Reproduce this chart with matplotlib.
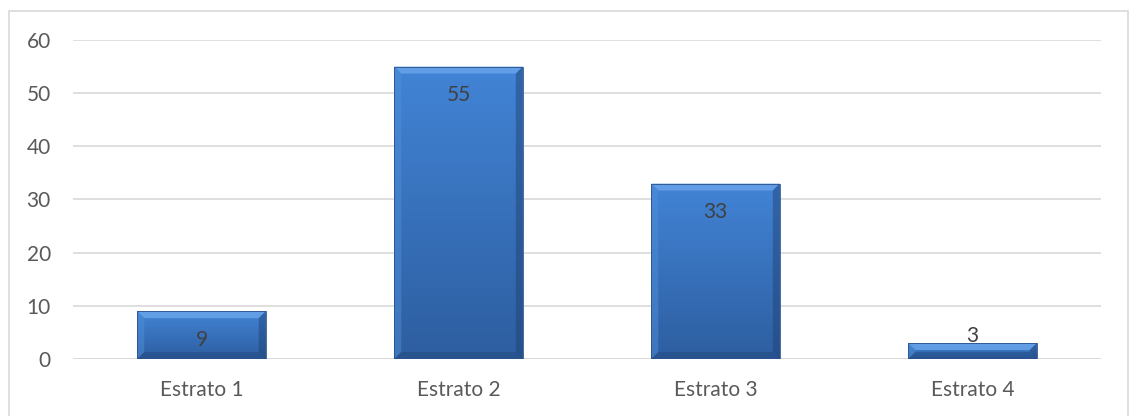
import numpy as np
import matplotlib.pyplot as plt
from matplotlib.patches import Rectangle, Polygon

categories = ["Estrato 1", "Estrato 2", "Estrato 3", "Estrato 4"]
values = [9, 55, 33, 3]
yticks = [0, 10, 20, 30, 40, 50, 60]

plt.rcParams['font.family'] = ['Lato', 'DejaVu Sans']
text_col = '#595959'
grid_col = '#d9d9d9'
fs = 15

fig = plt.figure(figsize=(11.3, 4.16), dpi=100)
ax = fig.add_axes([0.0646, 0.137, 0.9098, 0.767])

# outer chart frame
fig.patches.append(Rectangle((9 / 1130, -0.05), 1119 / 1130, 1.05 - 11 / 416,
                             transform=fig.transFigure, fill=False,
                             edgecolor=grid_col, lw=1.2, clip_on=False))

x = np.arange(len(categories))
width = 0.5
bars = ax.bar(x, values, width=width, color='none', edgecolor='#2a5288', lw=0.6, zorder=3)

# vertical gradient, lighter at top
grad = np.linspace(0, 1, 256).reshape(-1, 1)
top_c = np.array([0x42, 0x84, 0xd6]) / 255
bot_c = np.array([0x2d, 0x5e, 0xa0]) / 255
img = (bot_c[None, None, :] * (1 - grad[..., None]) + top_c[None, None, :] * grad[..., None])

# pixel -> data scale for bevel size
px_y = 60 / 319.0
px_x = 4 / 1028.0
bev = 7

for b, v in zip(bars, values):
    x0, w = b.get_x(), b.get_width()
    im = ax.imshow(img, extent=[x0, x0 + w, 0, v], origin='lower', aspect='auto', zorder=2)
    im.set_clip_path(b)
    by = min(bev * px_y, v / 2)
    bx = bev * px_x
    # top bevel (light)
    ax.add_patch(Polygon([(x0, v), (x0 + w, v), (x0 + w - bx, v - by), (x0 + bx, v - by)],
                         closed=True, facecolor='#6aa6ec', edgecolor='none', alpha=0.8, zorder=2.5))
    # left bevel
    ax.add_patch(Polygon([(x0, 0), (x0, v), (x0 + bx, v - by), (x0 + bx, min(by, v / 2))],
                         closed=True, facecolor='#4f8ed8', edgecolor='none', alpha=0.5, zorder=2.5))
    # right bevel (dark)
    ax.add_patch(Polygon([(x0 + w, 0), (x0 + w, v), (x0 + w - bx, v - by), (x0 + w - bx, min(by, v / 2))],
                         closed=True, facecolor='#1f3f6e', edgecolor='none', alpha=0.45, zorder=2.5))
    # bottom bevel
    ax.add_patch(Polygon([(x0, 0), (x0 + w, 0), (x0 + w - bx, by), (x0 + bx, by)],
                         closed=True, facecolor='#1f3f6e', edgecolor='none', alpha=0.35, zorder=2.5))

    if v >= 6:
        ax.annotate(str(v), (x0 + w / 2, v), xytext=(0, -25), textcoords='offset points',
                    ha='center', va='baseline', fontsize=fs, color='#404040', zorder=4)
    else:
        ax.annotate(str(v), (x0 + w / 2, v), xytext=(0, 1), textcoords='offset points',
                    ha='center', va='baseline', fontsize=fs, color='#404040', zorder=4)

ax.set_xlim(-0.5, len(categories) - 0.5)
ax.set_ylim(0, 60)
ax.set_yticks(yticks)
ax.set_xticks(x)
ax.set_xticklabels(categories)
ax.yaxis.grid(True, color=grid_col, lw=1.2, zorder=0)
ax.set_axisbelow(True)
for s in ax.spines.values():
    s.set_visible(False)
ax.axhline(0, color=grid_col, lw=1.2, zorder=1)
ax.tick_params(axis='both', length=0, labelsize=fs, colors=text_col)
ax.tick_params(axis='y', pad=16)
ax.tick_params(axis='x', pad=15)

fig.savefig('out.png', dpi=100)
